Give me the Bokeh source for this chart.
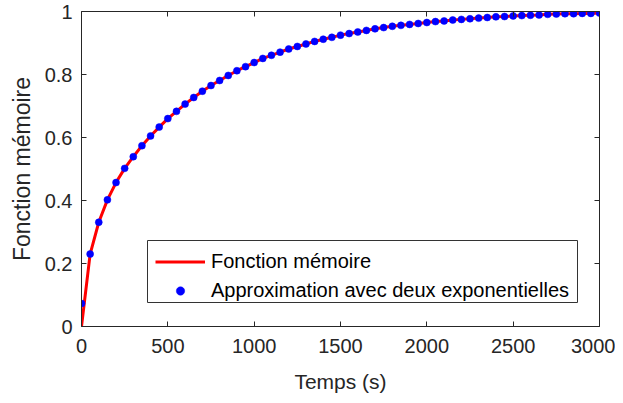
from bokeh.plotting import figure
from bokeh.models import (ColumnDataSource, Range1d, FixedTicker, LinearAxis,
                          Legend, LegendItem, BoxAnnotation)
from bokeh.embed import file_html
from bokeh.resources import INLINE

# ---- data ----
temps = [0, 50, 100, 150, 200, 250, 300, 350, 400, 450, 500, 550, 600, 650, 700,
         750, 800, 850, 900, 950, 1000, 1050, 1100, 1150, 1200, 1250, 1300, 1350,
         1400, 1450, 1500, 1550, 1600, 1650, 1700, 1750, 1800, 1850, 1900, 1950,
         2000, 2050, 2100, 2150, 2200, 2250, 2300, 2350, 2400, 2450, 2500, 2550,
         2600, 2650, 2700, 2750, 2800, 2850, 2900, 2950, 3000]
approx = [0.073, 0.230, 0.331, 0.402, 0.457, 0.502, 0.539, 0.574, 0.605, 0.633,
          0.660, 0.683, 0.706, 0.727, 0.747, 0.765, 0.781, 0.797, 0.812, 0.825,
          0.838, 0.851, 0.861, 0.871, 0.881, 0.889, 0.897, 0.905, 0.912, 0.918,
          0.925, 0.930, 0.935, 0.940, 0.945, 0.949, 0.953, 0.956, 0.959, 0.962,
          0.965, 0.968, 0.970, 0.973, 0.975, 0.977, 0.979, 0.981, 0.983, 0.984,
          0.986, 0.987, 0.988, 0.989, 0.991, 0.992, 0.993, 0.993, 0.994, 0.994,
          0.995]
memoire = [0.0] + approx[1:]
x_ticks = [0, 500, 1000, 1500, 2000, 2500, 3000]
y_ticks = [0, 0.2, 0.4, 0.6, 0.8, 1]
y_tick_labels = ["0", "0.2", "0.4", "0.6", "0.8", "1"]

DARK = "#262626"
FONT = "Liberation Sans"

p = figure(width=615, height=395, output_backend="svg", toolbar_location=None,
           x_range=Range1d(0, 3000), y_range=Range1d(0, 1),
           min_border_left=81, min_border_right=16, min_border_top=11,
           min_border_bottom=65)
p.outline_line_color = None
p.grid.visible = False
p.background_fill_color = "white"
p.border_fill_color = "white"

line_src = ColumnDataSource(dict(x=temps, y=memoire))
pt_src = ColumnDataSource(dict(x=temps, y=approx))
r_line = p.line("x", "y", source=line_src, line_color="#FF0000", line_width=3)
r_pts = p.scatter("x", "y", source=pt_src, marker="circle", size=7,
                  fill_color="#0000FF", line_color="#0000FF", line_width=0.5)


def style_axis(ax, labels=True):
    ax.axis_line_color = DARK
    ax.axis_line_width = 1
    ax.major_tick_line_color = DARK
    ax.major_tick_in = 5
    ax.major_tick_out = 0
    ax.minor_tick_line_color = None
    ax.major_label_text_font = FONT
    ax.major_label_text_font_size = "20px"
    ax.major_label_text_color = DARK
    ax.axis_label_text_font = FONT
    ax.axis_label_text_color = DARK
    ax.axis_label_text_font_style = "normal"
    if not labels:
        ax.major_label_text_font_size = "0px"
        ax.major_label_text_alpha = 0


xa = p.xaxis[0]
xa.ticker = FixedTicker(ticks=x_ticks)
style_axis(xa)
xa.axis_label = "Temps (s)"
xa.axis_label_text_font_size = "21px"
xa.major_label_standoff = 12
xa.axis_label_standoff = 14

ya = p.yaxis[0]
ya.ticker = FixedTicker(ticks=y_ticks)
ya.major_label_overrides = {t: l for t, l in zip(y_ticks, y_tick_labels)}
style_axis(ya)
ya.axis_label = "Fonction mémoire"
ya.axis_label_text_font_size = "23px"
ya.major_label_standoff = 9
ya.axis_label_standoff = 7

top = LinearAxis(ticker=FixedTicker(ticks=x_ticks))
style_axis(top, labels=False)
top.major_label_standoff = 0
p.add_layout(top, "above")
right = LinearAxis(ticker=FixedTicker(ticks=y_ticks))
style_axis(right, labels=False)
right.major_label_standoff = 0
p.add_layout(right, "right")

# legend frame (screen units relative to the plot frame)
legend_box = BoxAnnotation(left=66, right=496, bottom=24, top=86,
                           left_units="screen", right_units="screen",
                           bottom_units="screen", top_units="screen",
                           fill_color="white", fill_alpha=1,
                           line_color="#333333", line_width=1, line_alpha=1)
p.add_layout(legend_box)

legend = Legend(items=[LegendItem(label="Fonction mémoire", renderers=[r_line]),
                       LegendItem(label="Approximation avec deux exponentielles",
                                  renderers=[r_pts])],
                location=(74, 24))
legend.label_text_font = FONT
legend.label_text_font_size = "20px"
legend.label_text_color = "black"
legend.border_line_color = None
legend.background_fill_alpha = 0
legend.glyph_width = 50
legend.glyph_height = 21
legend.label_height = 21
legend.spacing = 6
legend.padding = 7
legend.margin = 0
legend.label_standoff = 6
p.add_layout(legend, "center")

open("out.html", "w").write(file_html(p, INLINE))
